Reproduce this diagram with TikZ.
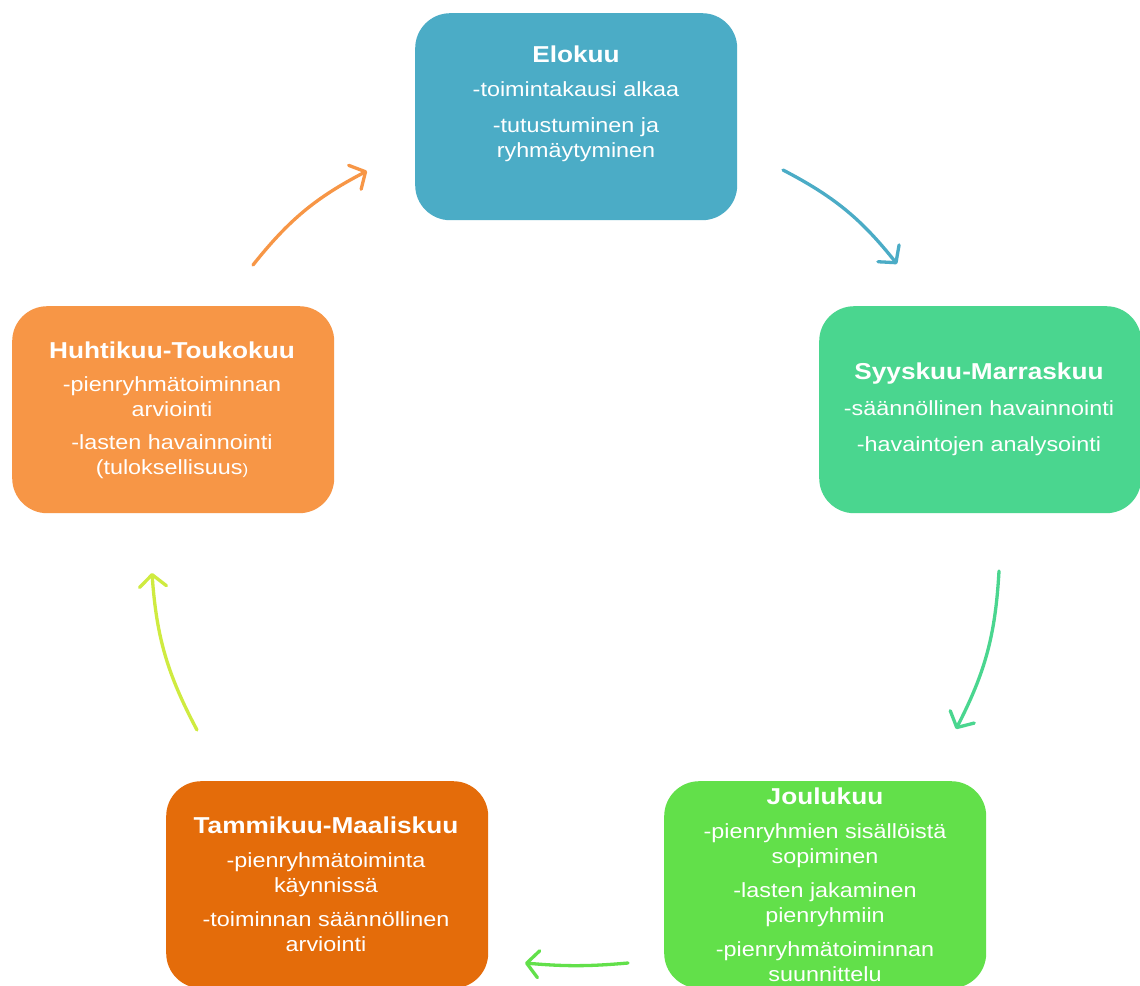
\documentclass[tikz,border=0pt]{standalone}
\usepackage{fontspec}
\setmainfont{Liberation Sans}[FakeStretch=1.14]
\usetikzlibrary{arrows.meta}
\definecolor{cElo}{HTML}{4BACC6}
\definecolor{cSyys}{HTML}{4AD68F}
\definecolor{cJoulu}{HTML}{62E04A}
\definecolor{cTammi}{HTML}{E46C0A}
\definecolor{cHuhti}{HTML}{F79646}
\definecolor{cLime}{HTML}{CFEB40}
\begin{document}
\begin{tikzpicture}[x=1pt,y=-1pt,
  phase/.style={draw=none, rounded corners=35pt, minimum width=322pt,
    minimum height=207pt, inner sep=0pt, anchor=north west},
  ttl/.style={font=\fontsize{23}{27}\selectfont\bfseries, text=white, inner sep=0pt},
  txt/.style={font=\fontsize{20.5}{25}\selectfont, text=white, align=center, inner sep=0pt},
  cyc/.style={line width=3.3pt, line cap=round,
    -{Straight Barb[length=12pt,width=27pt,line cap=round,line join=round]}, bend left=12}]
\clip (0,0) rectangle (1140,985);
\fill[white] (0,0) rectangle (1140,985);

% phase boxes
\node[phase, fill=cElo]   (elo)   at (415,13)  {};
\node[phase, fill=cSyys]  (syys)  at (819,306) {};
\node[phase, fill=cJoulu] (joulu) at (664,781) {};
\node[phase, fill=cTammi] (tammi) at (166,781) {};
\node[phase, fill=cHuhti] (huhti) at (12,306)  {};

% box texts
\node[ttl] (elo-t) at (576,54) {Elokuu};
\node[txt] (elo-b) at (576,121.5) {-toimintakausi alkaa\\[11pt]-tutustuminen ja\\ryhmäytyminen};

\node[ttl] (syys-t) at (979,374) {Syyskuu-Marraskuu};
\node[txt] (syys-b) at (979,428) {-säännöllinen havainnointi\\[11pt]-havaintojen analysointi};

\node[ttl] (joulu-t) at (825,796) {Joulukuu};
\node[txt] (joulu-b) at (825,903) {-pienryhmien sisällöistä\\sopiminen\\[9pt]-lasten jakaminen\\pienryhmiin\\[9pt]-pienryhmätoiminnan\\suunnittelu};

\node[ttl] (tammi-t) at (326,825) {Tammikuu-Maaliskuu};
\node[txt] (tammi-b) at (326,902) {-pienryhmätoiminta\\käynnissä\\[9pt]-toiminnan säännöllinen\\arviointi};

\node[ttl] (huhti-t) at (172,350) {Huhtikuu-Toukokuu};
\node[txt] (huhti-b) at (172,427.5) {-pienryhmätoiminnan\\arviointi\\[8pt]-lasten havainnointi\\(tuloksellisuus{\fontsize{15}{25}\selectfont)}};

% arrow end points
\coordinate (a1s) at (783,170);  \coordinate (a1e) at (897,264);
\coordinate (a2s) at (999,571);  \coordinate (a2e) at (956,729);
\coordinate (a3s) at (628,963);  \coordinate (a3e) at (525,963);
\coordinate (a4s) at (197,730);  \coordinate (a4e) at (152,573);
\coordinate (a5s) at (253,265);  \coordinate (a5e) at (367,171);

% cycle arrows
\draw[cyc, cElo]   (a1s) to (a1e);
\draw[cyc, cSyys]  (a2s) to (a2e);
\draw[cyc, cJoulu, bend left=5] (a3s) to (a3e);
\draw[cyc, cLime]  (a4s) to (a4e);
\draw[cyc, cHuhti] (a5s) to (a5e);
\end{tikzpicture}
\end{document}
